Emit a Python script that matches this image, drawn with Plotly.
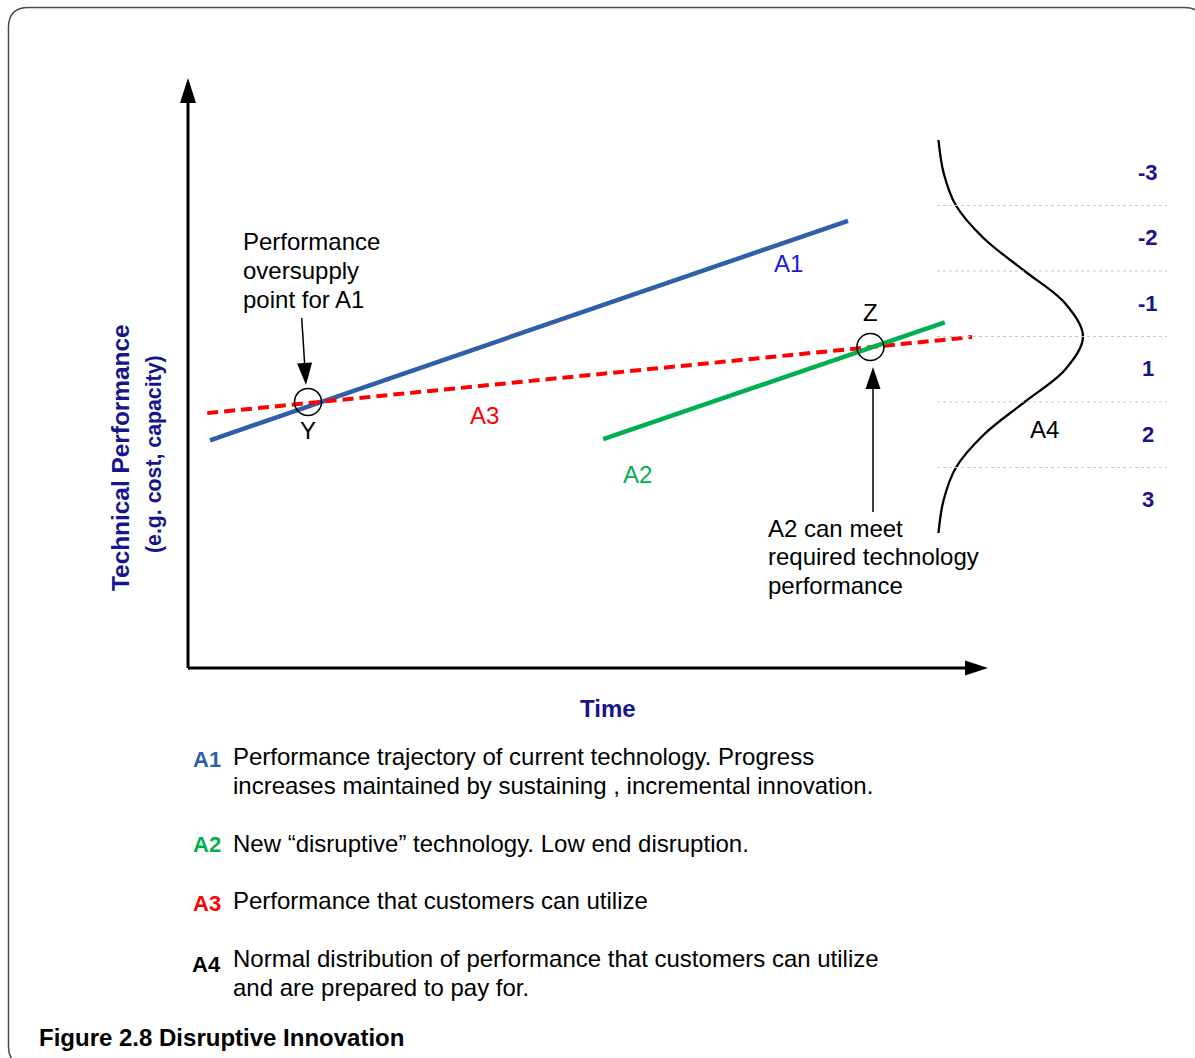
import math
import plotly.graph_objects as go

W, H = 1195, 1058
FONT = "Liberation Sans, Arial, Helvetica, sans-serif"
NAVY = "#15158c"
BLUE_LINE = "#2f5fa8"
BLUE_TEXT = "#1c1cd4"
GREEN = "#00b050"
RED = "#ff0000"

# ---- data: time / technical performance on a 0-100 scale ----
time_a1 = [2.75, 82.5]
perf_a1 = [38.6, 75.8]
time_a2 = [51.9, 94.6]
perf_a2 = [38.8, 58.6]
time_a3 = [2.4, 98.0]
perf_a3 = [43.2, 56.1]

crossing_labels = ["Y", "Z"]
crossing_time = [15.0, 85.3]
crossing_perf = [45.1, 54.4]

# A4: customer distribution, z-score against relative share
dist_z = [-3, -2.5, -2, -1.5, -1, -0.5, 0, 0.5, 1, 1.5, 2, 2.5, 3]
dist_share = [0.01, 0.045, 0.13, 0.32, 0.6, 0.88, 1.0, 0.88, 0.6, 0.32, 0.13, 0.045, 0.01]
band_z = [-2.5, -1.5, -0.5, 0.5, 1.5, 2.5]
band_labels = ["-3", "-2", "-1", "1", "2", "3"]
band_edges = [-2, -1, 0, 1, 2]

legend_tags = ["A1", "A2", "A3", "A4"]
legend_colors = [BLUE_LINE, GREEN, RED, "#000000"]
legend_texts = [
    ["Performance trajectory of current technology. Progress",
     "increases maintained by sustaining , incremental innovation."],
    ["New \u201cdisruptive\u201d technology. Low end disruption."],
    ["Performance that customers can utilize"],
    ["Normal distribution of performance that customers can utilize",
     "and are prepared to pay for."],
]

# ---- page geometry ----
X0_PX, Y0_PX = 188, 668          # where the axes meet
XS, YS = 8.0, 5.9                # pixels per diagram unit
AXIS_END = 100
TXT = 24


def to_px(t, p):
    return X0_PX + t * XS, Y0_PX - p * YS


def from_px(x, y):
    return (x - X0_PX) / XS, (Y0_PX - y) / YS


def pap(x, y):
    return x / W, 1 - y / H


fig = go.Figure()

# trajectories
fig.add_trace(go.Scatter(x=time_a1, y=perf_a1, mode="lines",
                         line=dict(color=BLUE_LINE, width=4.5), hoverinfo="skip"))
fig.add_trace(go.Scatter(x=time_a3, y=perf_a3, mode="lines",
                         line=dict(color=RED, width=4, dash="11px,6px"), hoverinfo="skip"))
fig.add_trace(go.Scatter(x=time_a2, y=perf_a2, mode="lines",
                         line=dict(color=GREEN, width=4.5), hoverinfo="skip"))

# customer distribution on its own axes
fig.add_trace(go.Scatter(x=dist_share, y=dist_z, mode="lines", xaxis="x2", yaxis="y2",
                         line=dict(color="#000000", width=2.3, shape="spline", smoothing=1.0),
                         hoverinfo="skip"))

shapes = []
annotations = []

# band labels beside the distribution
for z, s in zip(band_z, band_labels):
    annotations.append(dict(xref="x2", yref="y2", x=1.445, y=z, text=s, showarrow=False,
                            yshift=0.5,
                            font=dict(family=FONT, size=22, color=NAVY, weight="bold")))

# rounded frame around the figure
fx0, fy0, fx1, fy1, r = 8.5, 7.5, 1204, 1066, 20


def P(x, y):
    a, b = pap(x, y)
    return f"{a:.5f},{b:.5f}"


frame = (f"M{P(fx0 + r, fy0)} L{P(fx1 - r, fy0)} Q{P(fx1, fy0)} {P(fx1, fy0 + r)} "
         f"L{P(fx1, fy1 - r)} Q{P(fx1, fy1)} {P(fx1 - r, fy1)} "
         f"L{P(fx0 + r, fy1)} Q{P(fx0, fy1)} {P(fx0, fy1 - r)} "
         f"L{P(fx0, fy0 + r)} Q{P(fx0, fy0)} {P(fx0 + r, fy0)} Z")
shapes.append(dict(type="path", xref="paper", yref="paper", path=frame,
                   line=dict(color="#4a4a4a", width=1.5), layer="below"))


def arrow(tail, tip, head_len, head_w, lw):
    """Line from tail to tip (diagram units) with a filled triangular head."""
    tx, ty = to_px(*tail)
    hx, hy = to_px(*tip)
    d = math.hypot(hx - tx, hy - ty)
    ux, uy = (hx - tx) / d, (hy - ty) / d          # screen direction (y down)
    bx, by = hx - ux * (head_len - 1), hy - uy * (head_len - 1)
    base = from_px(bx, by)
    shapes.append(dict(type="line", xref="x", yref="y", x0=tail[0], y0=tail[1],
                       x1=base[0], y1=base[1], line=dict(color="#000000", width=lw)))
    # head path in pixels around the tip; pixel y offsets point up
    px_, py_ = -uy, ux
    pts = [(0, 0),
           (-ux * head_len + px_ * head_w / 2, -uy * head_len + py_ * head_w / 2),
           (-ux * head_len - px_ * head_w / 2, -uy * head_len - py_ * head_w / 2)]
    path = "M" + " L".join(f"{a:.2f},{-b:.2f}" for a, b in pts) + " Z"
    shapes.append(dict(type="path", xref="x", yref="y", xsizemode="pixel", ysizemode="pixel",
                       xanchor=tip[0], yanchor=tip[1], path=path,
                       fillcolor="#000000", line=dict(width=0)))


# axes with arrow heads
arrow((0, 0), (0, AXIS_END), 25, 16, 3)
arrow((0, 0), (AXIS_END, 0), 23, 15, 3)
# corner fill so the two axis lines meet squarely
shapes.append(dict(type="line", xref="x", yref="y", x0=0, y0=0, x1=0.2, y1=0,
                   line=dict(color="#000000", width=3)))

# pointer arrows to the crossings
arrow(from_px(301.7, 318), from_px(306, 385), 22, 15, 1.5)
arrow(from_px(873, 512), from_px(873, 367), 22, 15, 1.5)

# crossing circles
for t, p in zip(crossing_time, crossing_perf):
    shapes.append(dict(type="circle", xref="x", yref="y", xsizemode="pixel", ysizemode="pixel",
                       xanchor=t, yanchor=p, x0=-13.5, x1=13.5, y0=-13.5, y1=13.5,
                       line=dict(color="#000000", width=1.5)))

# dotted band edges of the distribution
for z in band_edges:
    shapes.append(dict(type="line", xref="x2 domain", yref="y2", x0=0, x1=1, y0=z, y1=z,
                       line=dict(color="#c8c8c8", width=1, dash="dot")))


def text_px(x, y, s, size=TXT, color="#000000", bold=False, xanchor="center", angle=0):
    # annotation boxes carry ~2px of padding; compensate on anchored edges
    if xanchor == "left":
        x -= 2
    elif xanchor == "right":
        x += 2
    a, b = pap(x, y - 1)
    annotations.append(dict(xref="paper", yref="paper", x=a, y=b, text=s, showarrow=False,
                            xanchor=xanchor, yanchor="middle", textangle=angle,
                            font=dict(family=FONT, size=size, color=color,
                                      weight="bold" if bold else "normal")))


def text_lines(x, y, lines, spacing=28.7, **kw):
    for i, s in enumerate(lines):
        text_px(x, y + i * spacing, s, **kw)


# labels on the diagram
def label_at(t, p, s, dy_px, color="#000000"):
    x, y = to_px(t, p)
    text_px(x, y + dy_px, s, color=color)


text_px(788, 265, "A1", color=BLUE_TEXT)
text_px(484, 416, "A3", color=RED)
text_px(637, 475, "A2", color=GREEN)
text_px(1044, 430, "A4")
label_at(crossing_time[0], crossing_perf[0], crossing_labels[0], 30)
label_at(crossing_time[1], crossing_perf[1], crossing_labels[1], -34)
text_lines(243, 243, ["Performance", "oversupply", "point for A1"], xanchor="left")
text_lines(768, 529, ["A2 can meet", "required technology", "performance"], xanchor="left")

# axis titles
text_px(608, 709, "Time", size=24, color=NAVY, bold=True)
text_px(120, 459, "Technical Performance", size=24.4, color=NAVY, bold=True, angle=-90)
text_px(154, 455, "(e.g. cost, capacity)", size=21.3, color=NAVY, bold=True, angle=-90)

# key below the diagram
tag_y = [760, 845, 904, 965]
text_y = [757, 844, 901, 959]
for tag, col, lines, ty, ly in zip(legend_tags, legend_colors, legend_texts, tag_y, text_y):
    text_px(221, ty, tag, size=22, color=col, bold=True, xanchor="right")
    text_lines(233, ly, lines, spacing=29, xanchor="left")

text_px(39, 1038, "Figure 2.8 Disruptive Innovation", size=24, bold=True, xanchor="left")

fig.update_layout(
    width=W, height=H, margin=dict(l=0, r=0, t=0, b=0),
    paper_bgcolor="#ffffff", plot_bgcolor="rgba(0,0,0,0)", showlegend=False,
    xaxis=dict(domain=[0, 1], range=[-X0_PX / XS, (W - X0_PX) / XS], visible=False,
               fixedrange=True),
    yaxis=dict(domain=[0, 1], range=[-(H - Y0_PX) / YS, Y0_PX / YS], visible=False,
               fixedrange=True),
    xaxis2=dict(domain=[937 / W, 1167 / W], range=[0, 230 / 146], visible=False,
                anchor="y2", fixedrange=True),
    yaxis2=dict(domain=[(H - 533) / H, (H - 140) / H], range=[3, -3], visible=False,
                anchor="x2", fixedrange=True),
    shapes=shapes, annotations=annotations,
)

fig.write_html("out.html", config={"displayModeBar": False})
